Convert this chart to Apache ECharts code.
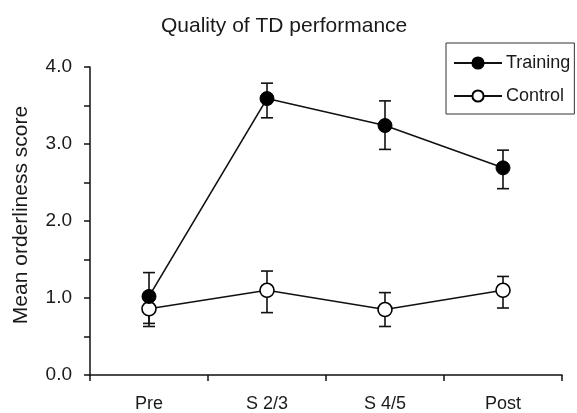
<!DOCTYPE html>
<html>
<head>
<meta charset="utf-8">
<script src="https://cdn.jsdelivr.net/npm/echarts@6/dist/echarts.min.js"></script>
<style>
  html, body { margin: 0; padding: 0; background: #fff; }
  #chart { width: 577px; height: 413px; }
</style>
</head>
<body>
<div id="chart"></div>
<script>
// phases on the x axis
const phases = ['Pre', 'S 2/3', 'S 4/5', 'Post'];

// training group: mean and error bar ends
const trainingMean = [1.02, 3.59, 3.24, 2.69];
const trainingLow = [0.67, 3.34, 2.93, 2.42];
const trainingHigh = [1.33, 3.79, 3.56, 2.92];

// control group
const controlMean = [0.86, 1.10, 0.85, 1.10];
const controlLow = [0.63, 0.81, 0.63, 0.87];
const controlHigh = [1.07, 1.35, 1.07, 1.28];

const font = 'Liberation Sans, Arial, sans-serif';

const bars = (lo, hi) => lo.map((v, i) => [i, v, hi[i]]);

// vertical error bar with caps
function errorBar(params, api) {
  const x = api.value(0);
  const lo = api.coord([x, api.value(1)]);
  const hi = api.coord([x, api.value(2)]);
  const w = 6;
  const style = { stroke: '#111', lineWidth: 1.6 };
  return {
    type: 'group',
    children: [
      { type: 'line', shape: { x1: lo[0], y1: lo[1], x2: hi[0], y2: hi[1] }, style },
      { type: 'line', shape: { x1: lo[0] - w, y1: lo[1], x2: lo[0] + w, y2: lo[1] }, style },
      { type: 'line', shape: { x1: hi[0] - w, y1: hi[1], x2: hi[0] + w, y2: hi[1] }, style }
    ]
  };
}

const chart = echarts.init(document.getElementById('chart'));
chart.setOption({
  animation: false,
  backgroundColor: '#fff',
  title: {
    text: 'Quality of TD performance',
    left: 156,
    top: 11,
    textStyle: { fontFamily: font, fontSize: 21, fontWeight: 'normal', color: '#1a1a1a' }
  },
  legend: {
    data: ['Training', 'Control'],
    orient: 'vertical',
    left: 446,
    top: 43,
    padding: [11, 4, 9, 7],
    itemWidth: 48,
    itemHeight: 14,
    itemGap: 15,
    borderColor: '#333',
    borderWidth: 1,
    textStyle: { fontFamily: font, fontSize: 18, color: '#1a1a1a', padding: [0, 0, 0, -1] }
  },
  grid: { left: 90, right: 15, top: 67, bottom: 38 },
  xAxis: {
    type: 'category',
    data: phases,
    boundaryGap: true,
    axisLine: { show: true, lineStyle: { color: '#111', width: 1.5 } },
    axisTick: { show: true, length: 6, lineStyle: { color: '#111', width: 1.5 } },
    axisLabel: { margin: 20, fontFamily: font, fontSize: 18, color: '#1a1a1a' }
  },
  yAxis: {
    type: 'value',
    min: 0,
    max: 4,
    interval: 0.5,
    name: 'Mean orderliness score',
    nameLocation: 'middle',
    nameGap: 58,
    nameTextStyle: { fontFamily: font, fontSize: 21, color: '#1a1a1a', padding: [0, 0, 0, 12] },
    splitLine: { show: false },
    axisLine: { show: true, lineStyle: { color: '#111', width: 1.5 } },
    axisTick: { show: true, length: 6, lineStyle: { color: '#111', width: 1.5 } },
    axisLabel: {
      formatter: (v) => (v % 1 === 0 ? v.toFixed(1) : ''),
      margin: 18,
      fontFamily: font,
      fontSize: 19,
      color: '#1a1a1a'
    }
  },
  series: [
    {
      type: 'custom',
      renderItem: errorBar,
      encode: { x: 0, y: [1, 2] },
      data: bars(trainingLow, trainingHigh),
      z: 1
    },
    {
      type: 'custom',
      renderItem: errorBar,
      encode: { x: 0, y: [1, 2] },
      data: bars(controlLow, controlHigh),
      z: 1
    },
    {
      name: 'Training',
      type: 'line',
      data: trainingMean,
      symbol: 'circle',
      symbolSize: 14,
      itemStyle: { color: '#000', borderColor: '#000', borderWidth: 1 },
      lineStyle: { color: '#111', width: 1.6 },
      z: 3
    },
    {
      name: 'Control',
      type: 'line',
      data: controlMean,
      symbol: 'circle',
      symbolSize: 14,
      itemStyle: { color: '#fff', borderColor: '#000', borderWidth: 1.6 },
      lineStyle: { color: '#111', width: 1.6 },
      z: 2
    }
  ]
});
</script>
</body>
</html>
